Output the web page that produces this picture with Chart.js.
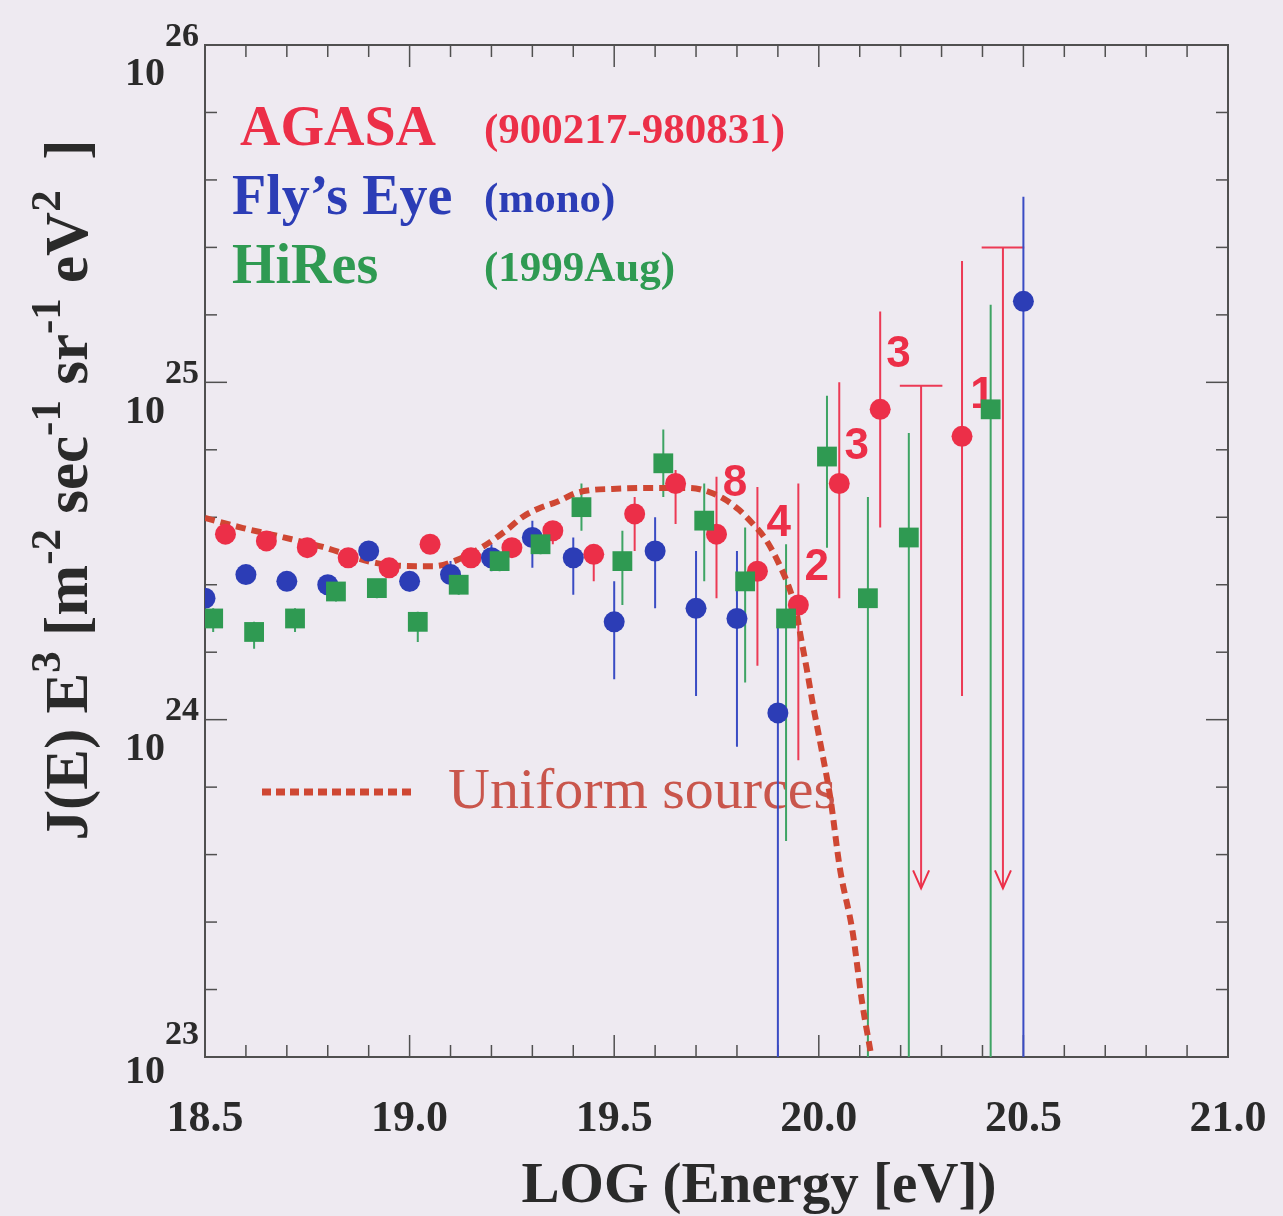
<!DOCTYPE html>
<html>
<head>
<meta charset="utf-8">
<script src="https://cdn.jsdelivr.net/npm/chart.js@4.4.1/dist/chart.umd.min.js"></script>
<style>
  html, body { margin: 0; padding: 0; background: #eeeaf1; }
</style>
</head>
<body>
<canvas id="myChart" width="1283" height="1216"></canvas>
<script>
// x values are log10(E/eV), y values are log10( J(E) E^3 )

// AGASA (900217-980831)
const agasaLogE = [18.55, 18.65, 18.75, 18.85, 18.95, 19.05, 19.15, 19.25, 19.35, 19.45, 19.55, 19.65, 19.75, 19.85, 19.95, 20.05, 20.15, 20.35];
const agasaFlux = [24.55, 24.53, 24.51, 24.48, 24.45, 24.52, 24.48, 24.51, 24.56, 24.49, 24.61, 24.70, 24.55, 24.44, 24.34, 24.70, 24.92, 24.84];
const agasaUp   = [24.57, 24.55, 24.53, 24.50, 24.47, 24.54, 24.50, 24.53, 24.58, 24.51, 24.66, 24.74, 24.72, 24.69, 24.70, 25.00, 25.21, 25.36];
const agasaDown = [24.53, 24.51, 24.49, 24.46, 24.43, 24.50, 24.46, 24.48, 24.52, 24.41, 24.50, 24.58, 24.36, 24.16, 23.88, 24.36, 24.57, 24.07];

// AGASA upper limits (bar at top, arrow pointing down)
const agasaLimitLogE = [20.25, 20.45];
const agasaLimitTop  = [24.99, 25.40];
const agasaLimitEnd  = [23.50, 23.50];

// Fly's Eye (mono)
const flysLogE = [18.5, 18.6, 18.7, 18.8, 18.9, 19.0, 19.1, 19.2, 19.3, 19.4, 19.5, 19.6, 19.7, 19.8, 19.9, 20.5];
const flysFlux = [24.36, 24.43, 24.41, 24.40, 24.50, 24.41, 24.43, 24.48, 24.54, 24.48, 24.29, 24.50, 24.33, 24.30, 24.02, 25.24];
const flysUp   = [24.38, 24.45, 24.43, 24.42, 24.52, 24.44, 24.47, 24.52, 24.59, 24.54, 24.41, 24.60, 24.50, 24.50, 24.28, 25.55];
const flysDown = [24.34, 24.41, 24.39, 24.38, 24.48, 24.38, 24.38, 24.44, 24.45, 24.37, 24.12, 24.33, 24.07, 23.92, 23.00, 23.00];

// HiRes (1999Aug)
const hiresLogE = [18.52, 18.62, 18.72, 18.82, 18.92, 19.02, 19.12, 19.22, 19.32, 19.42, 19.52, 19.62, 19.72, 19.82, 19.92, 20.02, 20.12, 20.22, 20.42];
const hiresFlux = [24.30, 24.26, 24.30, 24.38, 24.39, 24.29, 24.40, 24.47, 24.52, 24.63, 24.47, 24.76, 24.59, 24.41, 24.30, 24.78, 24.36, 24.54, 24.92];
const hiresUp   = [24.33, 24.29, 24.33, 24.40, 24.41, 24.32, 24.42, 24.49, 24.55, 24.70, 24.56, 24.86, 24.70, 24.57, 24.52, 24.96, 24.66, 24.85, 25.23];
const hiresDown = [24.26, 24.21, 24.26, 24.35, 24.36, 24.23, 24.37, 24.44, 24.49, 24.56, 24.34, 24.66, 24.41, 24.11, 23.64, 24.51, 23.00, 23.00, 23.00];

// Uniform sources model curve
const modelLogE = [18.500, 18.593, 18.690, 18.788, 18.920, 19.017, 19.061, 19.115, 19.178, 19.237, 19.276, 19.317, 19.359, 19.407, 19.446, 19.493, 19.585, 19.683, 19.732, 19.773, 19.805, 19.837, 19.871, 19.902, 19.927, 19.944, 19.956, 19.971, 19.985, 20.007, 20.029, 20.051, 20.083, 20.105, 20.127];
const modelFlux = [24.598, 24.568, 24.541, 24.512, 24.464, 24.455, 24.455, 24.473, 24.512, 24.562, 24.601, 24.627, 24.645, 24.672, 24.681, 24.684, 24.687, 24.687, 24.675, 24.651, 24.622, 24.583, 24.533, 24.464, 24.393, 24.325, 24.245, 24.147, 24.049, 23.910, 23.762, 23.563, 23.368, 23.169, 23.012];

// event counts written next to the AGASA points
const countText = ['8', '4', '2', '3', '3', '1'];
const countLogE = [19.795, 19.902, 19.995, 20.093, 20.195, 20.400];
const countFlux = [24.70, 24.58, 24.45, 24.81, 25.08, 24.96];

const RED = '#ec2f48';
const BLUE = '#2c3db6';
const GREEN = '#2f9a52';
const CURVE = '#cf4733';
const SERIF = '"Liberation Serif", "Times New Roman", serif';

const toPoints = (xs, ys) => xs.map((x, i) => ({x: x, y: ys[i]}));

// vertical error bars as one line with gaps between them
const errorPath = (xs, lo, hi) => {
    const pts = [];
    xs.forEach((x, i) => {
        pts.push({x: x, y: lo[i]}, {x: x, y: hi[i]}, {x: x, y: null});
    });
    return pts;
};

// upper limit: horizontal bar on top and a line going down to the arrow
const capHalf = 0.052;
const limitPath = (xs, top, end) => {
    const pts = [];
    xs.forEach((x, i) => {
        pts.push({x: x - capHalf, y: top[i]}, {x: x + capHalf, y: top[i]}, {x: x, y: null});
        pts.push({x: x, y: top[i]}, {x: x, y: end[i]}, {x: x, y: null});
    });
    return pts;
};

const isMultiple = (v, step) => Math.abs(v / step - Math.round(v / step)) < 1e-6;

const line = (ctx, x1, y1, x2, y2) => {
    ctx.beginPath();
    ctx.moveTo(x1, y1);
    ctx.lineTo(x2, y2);
    ctx.stroke();
};

// frame with inward ticks on all four sides, plus all the texts
const decorations = {
    id: 'decorations',
    beforeDatasetsDraw(chart) {
        const ctx = chart.ctx;
        const {left, right, top, bottom} = chart.chartArea;
        const xs = chart.scales.x;
        const ys = chart.scales.y;
        ctx.save();
        ctx.strokeStyle = '#505050';
        ctx.lineWidth = 2;
        ctx.strokeRect(left, top, right - left, bottom - top);
        ctx.lineWidth = 1.5;
        xs.ticks.forEach(t => {
            const px = xs.getPixelForValue(t.value);
            const len = isMultiple(t.value, 0.5) ? 22 : 12;
            line(ctx, px, bottom, px, bottom - len);
            line(ctx, px, top, px, top + len);
        });
        ys.ticks.forEach(t => {
            const py = ys.getPixelForValue(t.value);
            const len = isMultiple(t.value, 1) ? 22 : 12;
            line(ctx, left, py, left + len, py);
            line(ctx, right, py, right - len, py);
        });

        // event counts (behind the markers)
        ctx.fillStyle = RED;
        ctx.font = 'bold 44px "Liberation Sans", Arial, sans-serif';
        ctx.textAlign = 'center';
        ctx.textBaseline = 'middle';
        countText.forEach((s, i) => {
            ctx.fillText(s, xs.getPixelForValue(countLogE[i]), ys.getPixelForValue(countFlux[i]));
        });

        // legend block
        ctx.textAlign = 'left';
        ctx.textBaseline = 'alphabetic';
        const legendRows = [
            ['AGASA', '(900217-980831)', RED, 240, 145],
            ['Fly\u2019s Eye', '(mono)', BLUE, 232, 214],
            ['HiRes', '(1999Aug)', GREEN, 232, 283]
        ];
        legendRows.forEach(r => {
            ctx.fillStyle = r[2];
            ctx.font = 'bold 56px ' + SERIF;
            ctx.fillText(r[0], r[3], r[4]);
            ctx.font = 'bold 43px ' + SERIF;
            ctx.fillText(r[1], 484, r[4] - 2);
        });

        // model legend
        ctx.strokeStyle = CURVE;
        ctx.lineWidth = 7;
        ctx.setLineDash([9, 5]);
        line(ctx, 262, 792, 415, 792);
        ctx.setLineDash([]);
        ctx.fillStyle = '#c9564c';
        ctx.font = '58px ' + SERIF;
        ctx.fillText('Uniform sources', 448, 808);
        ctx.restore();
    },
    afterDatasetsDraw(chart) {
        const ctx = chart.ctx;
        const xs = chart.scales.x;
        const ys = chart.scales.y;
        ctx.save();

        // arrow heads of the upper limits
        ctx.strokeStyle = RED;
        ctx.lineWidth = 2;
        agasaLimitLogE.forEach((x, i) => {
            const px = xs.getPixelForValue(x);
            const py = ys.getPixelForValue(agasaLimitEnd[i]);
            ctx.beginPath();
            ctx.moveTo(px - 8, py - 18);
            ctx.lineTo(px, py);
            ctx.lineTo(px + 8, py - 18);
            ctx.stroke();
        });

        // y tick labels 10^n
        ctx.fillStyle = '#2a2a2a';
        ys.ticks.forEach(t => {
            if (!isMultiple(t.value, 1)) return;
            const py = ys.getPixelForValue(t.value);
            const shift = t.value === ys.min ? -14 : 0;
            ctx.textBaseline = 'middle';
            ctx.textAlign = 'right';
            ctx.font = 'bold 40px ' + SERIF;
            ctx.fillText('10', 165, py + 30 + shift);
            ctx.textAlign = 'left';
            ctx.font = 'bold 34px ' + SERIF;
            ctx.fillText(String(Math.round(t.value)), 165, py - 8 + shift);
        });

        // x axis title
        ctx.textAlign = 'center';
        ctx.textBaseline = 'alphabetic';
        ctx.font = 'bold 57px ' + SERIF;
        ctx.fillText('LOG (Energy [eV])', 759, 1202);

        // y axis title with superscripts, rotated
        const parts = [
            ['J(E) E', false], ['3', true], [' [m', false], ['-2', true],
            [' sec', false], ['-1', true], [' sr', false], ['-1', true],
            [' eV', false], ['2', true], ['  ]', false]
        ];
        const baseFont = 'bold 61px ' + SERIF;
        const supFont = 'bold 43px ' + SERIF;
        let total = 0;
        parts.forEach(p => {
            ctx.font = p[1] ? supFont : baseFont;
            total += ctx.measureText(p[0]).width;
        });
        ctx.translate(87, 490);
        ctx.rotate(-Math.PI / 2);
        ctx.textAlign = 'left';
        let pos = -total / 2;
        parts.forEach(p => {
            ctx.font = p[1] ? supFont : baseFont;
            ctx.fillText(p[0], pos, p[1] ? -27 : 0);
            pos += ctx.measureText(p[0]).width;
        });
        ctx.restore();
    }
};

const ctx = document.getElementById('myChart').getContext('2d');

const chart = new Chart(ctx, {
    type: 'scatter',
    data: {
        datasets: [
            {
                label: 'HiRes',
                data: toPoints(hiresLogE, hiresFlux),
                pointStyle: 'rect',
                pointRadius: 14,
                backgroundColor: GREEN,
                borderWidth: 0,
                order: 1
            },
            {
                label: "Fly's Eye",
                data: toPoints(flysLogE, flysFlux),
                pointStyle: 'circle',
                pointRadius: 10.5,
                backgroundColor: BLUE,
                borderWidth: 0,
                order: 2
            },
            {
                label: 'AGASA',
                data: toPoints(agasaLogE, agasaFlux),
                pointStyle: 'circle',
                pointRadius: 10.5,
                backgroundColor: RED,
                borderWidth: 0,
                order: 3
            },
            {
                label: 'Uniform sources',
                data: toPoints(modelLogE, modelFlux),
                showLine: true,
                cubicInterpolationMode: 'monotone',
                borderColor: CURVE,
                borderWidth: 6,
                borderDash: [10, 6],
                pointRadius: 0,
                order: 4
            },
            {
                label: 'HiRes errors',
                data: errorPath(hiresLogE, hiresDown, hiresUp),
                showLine: true,
                spanGaps: false,
                borderColor: '#3ea464',
                borderWidth: 2,
                pointRadius: 0,
                order: 5
            },
            {
                label: "Fly's Eye errors",
                data: errorPath(flysLogE, flysDown, flysUp),
                showLine: true,
                spanGaps: false,
                borderColor: '#3a4cc4',
                borderWidth: 2,
                pointRadius: 0,
                order: 6
            },
            {
                label: 'AGASA errors',
                data: errorPath(agasaLogE, agasaDown, agasaUp),
                showLine: true,
                spanGaps: false,
                borderColor: '#ec3a55',
                borderWidth: 2,
                pointRadius: 0,
                order: 7
            },
            {
                label: 'AGASA upper limits',
                data: limitPath(agasaLimitLogE, agasaLimitTop, agasaLimitEnd),
                showLine: true,
                spanGaps: false,
                borderColor: '#ec3a55',
                borderWidth: 2,
                pointRadius: 0,
                order: 8
            }
        ]
    },
    options: {
        responsive: false,
        animation: false,
        devicePixelRatio: 1,
        layout: {
            padding: {left: 0, right: 55, top: 45, bottom: 0}
        },
        plugins: {
            legend: {display: false},
            tooltip: {enabled: false}
        },
        scales: {
            x: {
                type: 'linear',
                min: 18.5,
                max: 21.0,
                grid: {display: false, drawTicks: false},
                border: {display: false},
                ticks: {
                    stepSize: 0.1,
                    autoSkip: false,
                    maxRotation: 0,
                    padding: 36,
                    color: '#2a2a2a',
                    font: {family: SERIF, size: 44, weight: 'bold'},
                    callback: (v) => isMultiple(v, 0.5) ? v.toFixed(1) : ''
                },
                afterFit: (scale) => {
                    scale.height = 159;
                    // the last label may hang over the frame, keep the frame where it is
                    scale.paddingLeft = 0;
                    scale.paddingRight = 0;
                }
            },
            y: {
                type: 'linear',
                min: 23,
                max: 26,
                grid: {display: false, drawTicks: false},
                border: {display: false},
                ticks: {
                    stepSize: 0.2,
                    display: false
                },
                afterFit: (scale) => { scale.width = 205; }
            }
        }
    },
    plugins: [decorations]
});
</script>
</body>
</html>
